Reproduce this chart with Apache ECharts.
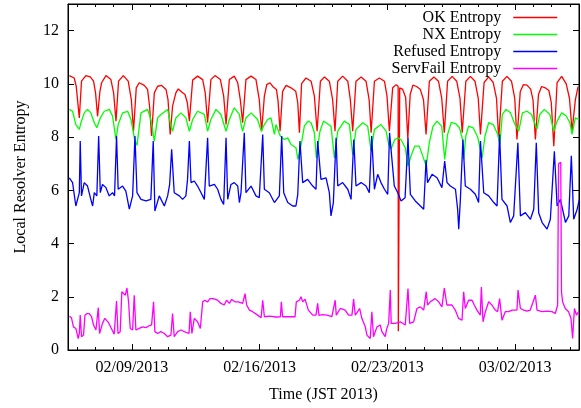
<!DOCTYPE html>
<html><head><meta charset="utf-8">
<script src="https://cdn.jsdelivr.net/npm/echarts@6/dist/echarts.min.js"></script>
<style>html,body{margin:0;padding:0;background:#fff}#c{width:581px;height:408px}</style>
</head><body><div id="c"></div>
<script>
// x values: days relative to 02/09/2013 00:00 JST
const xMin = -3.5, xMax = 24.5;
const xTickDays = [0, 7, 14, 21];
const xTickLabels = ['02/09/2013', '02/16/2013', '02/23/2013', '03/02/2013'];
const dayTicks = [-3,-2,-1,0,1,2,3,4,5,6,7,8,9,10,11,12,13,14,15,16,17,18,19,20,21,22,23,24];
const yTicks = [0, 2, 4, 6, 8, 10, 12];
const seriesNames = ['OK Entropy', 'NX Entropy', 'Refused Entropy', 'ServFail Entropy'];

const okEntropy = [[-3.43,10.31],[-3.16,10.22],[-3.05,9.91],[-2.88,8.72],[-2.76,10.10],[-2.52,10.31],[-2.28,10.26],[-2.10,10.10],[-1.99,9.66],[-1.88,8.78],[-1.75,9.72],[-1.66,10.04],[-1.42,10.31],[-1.15,10.16],[-1.00,9.66],[-0.87,8.60],[-0.73,10.10],[-0.47,10.31],[-0.20,10.10],[-0.03,9.41],[0.09,8.22],[0.24,9.85],[0.40,10.04],[0.68,9.94],[0.86,9.79],[0.97,9.16],[1.08,8.04],[1.23,9.66],[1.41,9.91],[1.63,9.94],[1.87,9.79],[1.98,9.41],[2.10,8.10],[2.23,9.16],[2.41,9.66],[2.54,9.81],[2.73,9.69],[2.91,9.60],[3.04,9.29],[3.15,8.60],[3.33,10.14],[3.60,10.29],[3.88,10.16],[4.02,9.66],[4.15,8.54],[4.33,10.16],[4.55,10.31],[4.85,10.16],[5.03,9.54],[5.16,8.47],[5.34,10.16],[5.61,10.29],[5.80,10.04],[5.94,9.41],[6.07,8.54],[6.25,10.16],[6.53,10.29],[6.80,10.16],[6.98,9.41],[7.11,8.22],[7.26,9.54],[7.39,9.97],[7.57,10.04],[7.75,9.88],[7.92,9.79],[8.01,9.35],[8.12,8.22],[8.26,9.72],[8.45,9.94],[8.72,9.85],[8.98,9.72],[9.09,9.29],[9.18,8.16],[9.30,10.01],[9.54,10.22],[9.82,10.10],[10.0,9.54],[10.15,8.22],[10.33,10.10],[10.55,10.26],[10.82,10.10],[11.0,9.41],[11.13,8.22],[11.28,10.10],[11.55,10.29],[11.83,10.10],[11.97,9.41],[12.10,8.22],[12.28,10.10],[12.56,10.26],[12.83,10.10],[13.0,9.41],[13.11,8.16],[13.29,10.10],[13.56,10.22],[13.84,10.10],[13.98,9.54],[14.11,8.22],[14.29,9.85],[14.48,9.97],[14.59,9.91],[14.60,0.70],[14.665,0.70],[14.675,9.85],[14.84,9.79],[15.0,9.5],[15.12,7.95],[15.25,9.6],[15.4,9.95],[15.6,9.9],[15.8,9.8],[15.98,9.4],[16.12,8.1],[16.3,10.1],[16.55,10.26],[16.8,10.1],[16.98,9.45],[17.12,8.16],[17.3,10.1],[17.55,10.28],[17.8,10.1],[17.98,9.45],[18.1,8.16],[18.3,10.1],[18.55,10.28],[18.8,10.1],[18.98,9.45],[19.1,8.10],[19.3,10.05],[19.55,10.26],[19.8,10.05],[19.98,9.45],[20.1,7.91],[20.3,10.1],[20.55,10.28],[20.8,10.1],[20.98,9.45],[21.1,7.91],[21.28,9.7],[21.45,9.97],[21.65,9.95],[21.85,9.8],[21.98,9.4],[22.11,7.91],[22.28,9.6],[22.45,9.9],[22.65,9.85],[22.85,9.75],[22.98,9.3],[23.12,7.66],[23.3,10.05],[23.55,10.28],[23.8,10.0],[23.98,9.45],[24.12,8.22],[24.3,9.4],[24.45,9.9]];

const nxEntropy = [[-3.43,9.04],[-3.25,8.97],[-3.07,8.47],[-2.88,8.29],[-2.79,8.54],[-2.61,8.91],[-2.43,9.04],[-2.25,8.91],[-2.06,8.54],[-1.92,8.35],[-1.73,8.72],[-1.51,8.97],[-1.24,9.04],[-1.06,8.79],[-0.87,7.91],[-0.75,8.47],[-0.51,8.91],[-0.23,8.97],[-0.05,8.66],[0.17,7.85],[0.28,7.69],[0.50,8.91],[0.86,9.04],[1.04,8.66],[1.23,7.85],[1.41,8.72],[1.59,8.85],[1.96,9.04],[2.14,8.41],[2.23,8.22],[2.41,8.72],[2.69,8.91],[2.96,8.72],[3.15,8.22],[3.33,8.66],[3.60,8.97],[3.97,8.85],[4.15,8.22],[4.33,8.66],[4.61,9.04],[4.88,8.85],[5.16,8.22],[5.34,8.66],[5.61,9.10],[5.89,8.85],[6.0,8.41],[6.07,8.22],[6.25,8.72],[6.53,8.91],[6.63,8.97],[6.89,8.66],[7.09,8.22],[7.26,8.47],[7.44,8.66],[7.62,8.72],[7.81,8.1],[7.9,8.47],[8.13,8.04],[8.35,7.91],[8.54,7.97],[8.72,7.72],[8.99,7.60],[9.10,7.16],[9.3,7.8],[9.45,8.41],[9.65,8.6],[9.82,8.54],[10.0,8.16],[10.11,7.22],[10.3,8.2],[10.5,8.6],[10.64,8.54],[10.91,8.41],[11.10,7.22],[11.28,8.22],[11.64,8.60],[11.92,8.47],[12.10,7.35],[12.28,8.29],[12.65,8.54],[12.92,8.41],[13.11,7.47],[13.29,8.29],[13.65,8.47],[13.93,8.22],[14.08,7.7],[14.2,7.55],[14.4,7.9],[14.57,7.97],[14.75,7.9],[14.98,7.6],[15.13,6.91],[15.3,7.3],[15.5,7.66],[15.75,7.66],[15.98,7.2],[16.13,6.91],[16.3,7.8],[16.5,8.4],[16.72,8.6],[16.98,8.4],[17.14,7.16],[17.3,8.1],[17.5,8.55],[17.75,8.5],[17.95,8.35],[18.12,7.9],[18.18,7.16],[18.3,8.04],[18.45,8.41],[18.7,8.35],[18.95,8.0],[19.19,7.22],[19.35,8.04],[19.55,8.54],[19.8,8.47],[20.05,8.1],[20.16,7.7],[20.3,8.85],[20.5,9.04],[20.75,8.91],[20.95,8.54],[21.2,8.22],[21.4,8.91],[21.65,8.97],[21.9,8.85],[22.1,8.47],[22.2,8.3],[22.35,8.85],[22.6,9.04],[22.9,8.85],[23.12,8.22],[23.3,8.6],[23.55,8.91],[23.8,8.79],[24.0,8.54],[24.12,8.1],[24.3,8.72],[24.49,8.66]];

const refusedEntropy = [[-3.43,6.47],[-3.25,6.29],[-3.07,5.41],[-2.98,5.35],[-2.88,5.91],[-2.83,7.85],[-2.76,5.79],[-2.61,6.29],[-2.43,6.16],[-2.25,5.66],[-2.15,5.41],[-2.06,5.91],[-1.92,5.79],[-1.82,8.04],[-1.73,5.91],[-1.61,6.22],[-1.42,6.10],[-1.24,5.79],[-1.06,5.91],[-0.95,5.79],[-0.84,8.04],[-0.75,6.04],[-0.51,6.16],[-0.33,5.97],[-0.14,5.29],[0.04,5.79],[0.17,8.04],[0.28,5.91],[0.50,5.66],[0.77,5.60],[1.04,5.66],[1.17,7.85],[1.26,5.22],[1.50,5.79],[1.78,5.41],[1.96,5.79],[2.07,6.22],[2.18,7.54],[2.32,5.91],[2.60,5.79],[2.78,5.66],[2.96,5.79],[3.05,6.41],[3.15,7.85],[3.24,6.29],[3.42,6.35],[3.60,6.16],[3.79,5.91],[3.97,5.66],[4.15,7.97],[4.24,6.16],[4.52,6.22],[4.70,6.04],[4.88,5.66],[5.03,5.47],[5.16,7.97],[5.25,5.66],[5.43,6.22],[5.61,6.29],[5.80,6.16],[5.89,5.54],[5.98,5.91],[6.16,8.16],[6.25,5.91],[6.53,6.16],[6.80,5.79],[6.98,5.72],[7.17,8.10],[7.26,6.04],[7.53,5.91],[7.81,5.54],[8.08,5.79],[8.21,8.04],[8.32,5.91],[8.54,5.54],[8.81,5.41],[8.99,5.41],[9.09,5.85],[9.21,7.85],[9.36,6.29],[9.63,6.41],[9.91,6.16],[10.09,6.04],[10.18,7.85],[10.36,6.41],[10.64,6.47],[10.82,5.91],[10.91,5.04],[11.04,5.54],[11.19,7.97],[11.28,6.16],[11.55,6.29],[11.83,6.04],[12.01,5.66],[12.16,7.91],[12.28,6.16],[12.56,6.29],[12.83,6.16],[13.01,5.91],[13.14,8.04],[13.29,6.04],[13.47,6.60],[13.65,6.29],[13.84,6.04],[14.02,5.85],[14.12,8.16],[14.38,6.16],[14.57,5.91],[14.75,5.60],[14.97,5.72],[15.13,7.97],[15.26,5.85],[15.53,5.60],[15.81,5.41],[15.99,5.29],[16.12,7.15],[16.2,6.29],[16.45,6.60],[16.72,6.47],[16.99,6.10],[17.14,7.10],[17.27,6.29],[17.45,6.16],[17.73,6.04],[17.85,5.29],[17.91,4.54],[18.0,5.66],[18.14,7.91],[18.27,6.16],[18.55,6.04],[18.82,5.85],[19.0,5.54],[19.10,7.85],[19.28,5.91],[19.55,5.79],[19.83,5.54],[20.01,5.41],[20.15,8.10],[20.28,5.66],[20.56,5.41],[20.74,4.79],[20.92,5.04],[21.15,7.79],[21.29,5.04],[21.56,5.16],[21.84,4.91],[22.02,5.29],[22.16,7.79],[22.29,5.16],[22.48,4.79],[22.75,4.54],[22.93,4.91],[23.15,7.47],[23.30,5.41],[23.48,5.66],[23.76,4.79],[23.94,5.04],[24.08,7.30],[24.21,4.91],[24.40,5.29],[24.52,5.66]];

const servFailEntropy = [[-3.43,1.27],[-3.31,1.21],[-3.20,0.87],[-3.07,0.81],[-2.94,0.43],[-2.88,0.62],[-2.83,1.31],[-2.76,0.50],[-2.65,0.56],[-2.57,1.31],[-2.46,1.37],[-2.34,1.37],[-2.21,1.25],[-2.10,0.94],[-1.97,0.75],[-1.84,1.59],[-1.77,0.62],[-1.61,1.00],[-1.48,1.19],[-1.29,1.04],[-1.11,0.79],[-0.97,0.59],[-0.89,0.56],[-0.84,1.84],[-0.76,0.62],[-0.64,0.69],[-0.55,2.19],[-0.45,2.25],[-0.36,2.06],[-0.27,2.33],[-0.18,1.81],[-0.09,0.81],[0.04,0.75],[0.13,2.06],[0.22,0.75],[0.40,0.81],[0.59,0.87],[0.77,0.84],[0.95,0.91],[1.08,0.94],[1.19,1.81],[1.26,0.69],[1.41,0.62],[1.59,0.69],[1.78,0.62],[1.96,0.50],[2.14,0.56],[2.23,1.37],[2.32,0.50],[2.51,0.69],[2.69,0.75],[2.87,0.69],[3.13,0.62],[3.20,1.44],[3.29,0.62],[3.42,1.19],[3.60,1.06],[3.75,0.81],[3.88,1.81],[4.00,1.87],[4.15,1.81],[4.28,1.93],[4.46,1.93],[4.70,1.87],[4.88,1.75],[5.06,1.69],[5.19,1.87],[5.34,1.75],[5.47,1.90],[5.65,1.81],[5.83,1.81],[6.07,1.75],[6.20,2.12],[6.29,1.69],[6.44,1.50],[6.62,1.44],[6.89,1.31],[7.08,1.21],[7.17,1.87],[7.26,1.25],[7.53,1.27],[7.90,1.24],[8.14,1.25],[8.19,1.81],[8.26,1.25],[8.63,1.25],[8.94,1.25],[9.01,1.81],[9.18,1.87],[9.27,2.00],[9.36,1.81],[9.49,1.91],[9.67,1.50],[9.91,1.31],[10.09,1.31],[10.18,1.75],[10.25,1.30],[10.45,1.33],[10.69,1.31],[10.96,1.25],[11.14,1.87],[11.20,1.31],[11.42,1.56],[11.69,1.50],[11.87,1.31],[12.06,1.31],[12.15,1.91],[12.24,1.31],[12.37,1.44],[12.48,1.56],[12.60,1.19],[12.79,0.87],[12.88,0.56],[13.06,0.43],[13.15,1.44],[13.24,0.50],[13.43,0.87],[13.61,0.94],[13.70,0.69],[13.88,0.50],[13.97,0.81],[14.07,1.00],[14.16,2.25],[14.21,1.00],[14.43,1.00],[14.71,1.06],[14.98,0.94],[15.13,2.31],[15.22,1.00],[15.44,1.06],[15.62,1.56],[15.80,1.62],[15.99,1.50],[16.13,2.19],[16.20,1.69],[16.35,1.81],[16.62,1.93],[16.81,1.81],[16.99,1.62],[17.12,2.33],[17.26,1.69],[17.54,1.69],[17.72,1.50],[17.90,1.19],[18.09,1.12],[18.18,2.19],[18.27,1.56],[18.45,1.87],[18.64,1.87],[18.76,1.69],[18.91,1.50],[19.09,1.31],[19.15,2.37],[19.24,1.06],[19.37,1.44],[19.55,1.81],[19.73,1.69],[19.91,1.50],[20.04,1.44],[20.15,1.93],[20.28,1.12],[20.46,1.44],[20.65,1.44],[20.83,1.50],[21.10,1.50],[21.16,2.25],[21.29,1.56],[21.47,1.50],[21.65,1.46],[21.83,1.50],[22.11,2.06],[22.20,1.50],[22.47,1.44],[22.75,1.46],[23.02,1.44],[23.20,1.37],[23.33,1.69],[23.38,7.00],[23.50,7.05],[23.54,2.20],[23.60,1.81],[23.75,1.56],[23.93,1.44],[24.06,1.19],[24.15,0.43],[24.25,1.56],[24.36,1.31],[24.48,1.44]];

const seriesData = [okEntropy, nxEntropy, refusedEntropy, servFailEntropy];
const seriesColors = ['#ff0000', '#00ff00', '#0000ff', '#ff00ff'];

const FONT = 'Liberation Serif';
const black = '#000';

function xLabel(v) {
  for (let i = 0; i < xTickDays.length; i++) if (Math.abs(v - xTickDays[i]) < 1e-6) return xTickLabels[i];
  return '';
}

function xAxisDef(pos, major, labels) {
  return {
    type: 'value', min: xMin, max: xMax, position: pos, gridIndex: 0,
    splitLine: { show: false },
    axisLine: { show: major, onZero: false, lineStyle: { color: black, width: 1 } },
    axisTick: { show: true, inside: true, length: major ? 6 : 3, customValues: major ? xTickDays : dayTicks, lineStyle: { color: black, width: 1 } },
    axisLabel: labels ? { show: true, customValues: xTickDays, formatter: xLabel, color: black, fontFamily: FONT, fontSize: 16, margin: 10 } : { show: false },
    name: labels ? 'Time (JST 2013)' : '', nameLocation: 'middle', nameGap: 37,
    nameTextStyle: { color: black, fontFamily: FONT, fontSize: 16 }
  };
}

function yAxisDef(pos, labels) {
  return {
    type: 'value', min: 0, max: 13, position: pos, gridIndex: 0,
    splitLine: { show: false },
    axisLine: { show: true, onZero: false, lineStyle: { color: black, width: 1 } },
    axisTick: { show: true, inside: true, length: 6, customValues: yTicks, lineStyle: { color: black, width: 1 } },
    axisLabel: labels ? { show: true, customValues: yTicks, color: black, fontFamily: FONT, fontSize: 16, margin: 9 } : { show: false },
    name: labels ? 'Local Resolver Entropy' : '', nameLocation: 'middle', nameGap: 39,
    nameTextStyle: { color: black, fontFamily: FONT, fontSize: 16 }
  };
}

const chart = echarts.init(document.getElementById('c'), null, { renderer: 'canvas' });
chart.setOption({
  animation: false,
  backgroundColor: '#fff',
  grid: { left: 68, right: 2, top: 4, bottom: 56, show: true, borderColor: black, borderWidth: 1, backgroundColor: 'transparent' },
  xAxis: [xAxisDef('bottom', true, true), xAxisDef('bottom', false, false), xAxisDef('top', true, false), xAxisDef('top', false, false)],
  yAxis: [yAxisDef('left', true), yAxisDef('right', false)],
  legend: {
    data: seriesNames, orient: 'vertical', right: 23, top: 9, align: 'right', padding: 0,
    itemWidth: 44, itemHeight: 10, itemGap: 0,
    itemStyle: { opacity: 0, borderWidth: 0 },
    lineStyle: { width: 1.5 },
    textStyle: { color: black, fontFamily: FONT, fontSize: 16, lineHeight: 17, padding: [0, 7, 0, 0] }
  },
  series: seriesNames.map((n, i) => ({
    name: n, type: 'line', data: seriesData[i], xAxisIndex: 0, yAxisIndex: 0,
    symbol: 'none', showSymbol: false, color: seriesColors[i],
    lineStyle: { color: seriesColors[i], width: 1.3 }
  }))
});
</script></body></html>
